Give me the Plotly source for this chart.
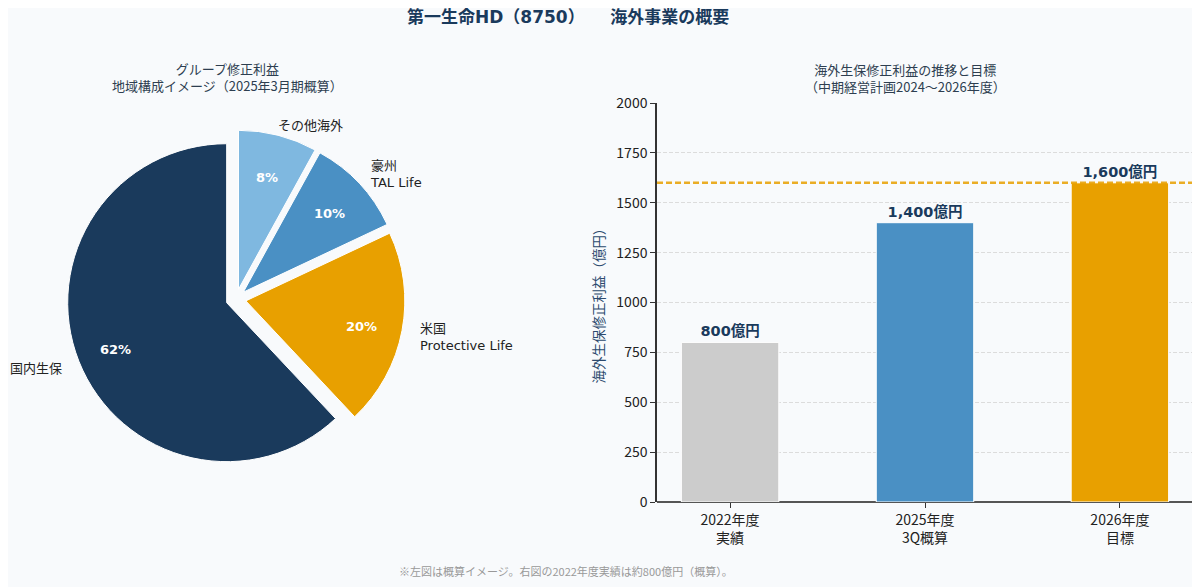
import math

import plotly.graph_objects as go

W, H = 1200, 587
PAGE_MARGIN = 8  # browser body margin

# Pie: regional composition (clockwise from 12 o'clock)
regions = ["その他海外", "豪州", "米国", "国内生保"]
region_labels = ["その他海外", "豪州<br>TAL Life", "米国<br>Protective Life", "国内生保"]
shares = [8, 10, 20, 62]
pie_colors = ["#7fb8e0", "#4a90c4", "#e8a000", "#1a3a5c"]

# Bars: overseas profit
years = ["2022年度<br>実績", "2025年度<br>3Q概算", "2026年度<br>目標"]
profits = [800, 1400, 1600]
bar_colors = ["#cccccc", "#4a90c4", "#e8a000"]
target = 1600

JP = "Noto Sans CJK JP"
DJ = "DejaVu Sans, Noto Sans CJK JP"


def px(x):
    return (x - PAGE_MARGIN) / W


def py(y):
    return 1 - (y - PAGE_MARGIN) / H


fig = go.Figure()

fig.add_trace(go.Pie(
    labels=regions, values=shares, sort=False, direction="clockwise",
    rotation=0, pull=[0.063] * 4,
    marker=dict(colors=pie_colors, line=dict(color="white", width=1)),
    textinfo="none",
    domain=dict(x=[px(67), px(405)], y=[py(468), py(130)]),
    showlegend=False, hoverinfo="label+percent",
))

# percentage labels placed along each wedge's middle angle
cx, cy, dist = 235, 302, 129
start = 0.0
total = sum(shares)
for s in shares:
    mid = math.radians(90 - (start + s / 2) / total * 360)
    start += s
    fig.add_annotation(x=px(cx + dist * math.cos(mid)), y=py(cy - dist * math.sin(mid)),
                       xref="paper", yref="paper", text=f"<b>{s}%</b>", showarrow=False,
                       xanchor="center", yanchor="middle",
                       font=dict(family=DJ, size=13, color="white"))

fig.add_trace(go.Bar(
    x=list(range(len(years))), y=profits, width=0.5,
    marker=dict(color=bar_colors, line=dict(color="white", width=1)),
    text=[f"{v:,}億円" for v in profits], textposition="outside", cliponaxis=False,
    textfont=dict(family=DJ, size=14.5, color="#1a3a5c", weight="bold"),
    showlegend=False, xaxis="x", yaxis="y",
))

fig.add_hline(y=target, line=dict(color="#e8a000", width=2.5, dash="6px,3px"), opacity=0.85)

# outside labels of the pie
label_pos = [
    (310, 126, "center"),
    (368, 174, "left"),
    (418, 337, "left"),
    (64, 368, "right"),
]
for text, (x, y, anchor) in zip(region_labels, label_pos):
    fig.add_annotation(x=px(x), y=py(y), xref="paper", yref="paper", text=text,
                       showarrow=False, xanchor=anchor, yanchor="middle", align="left",
                       font=dict(family=DJ, size=13, color="#222222"))

fig.add_annotation(x=px(568), y=py(17), xref="paper", yref="paper",
                   text="<b>第一生命HD（8750）　　海外事業の概要</b>",
                   showarrow=False, xanchor="center", yanchor="middle",
                   font=dict(family=DJ, size=17, color="#1a3a5c"))
fig.add_annotation(x=px(228), y=py(77), xref="paper", yref="paper",
                   text="グループ修正利益<br>地域構成イメージ（2025年3月期概算）",
                   showarrow=False, xanchor="center", yanchor="middle",
                   font=dict(family=JP, size=13, color="#2d3e50"))
fig.add_annotation(x=px(905), y=py(78), xref="paper", yref="paper",
                   text="海外生保修正利益の推移と目標<br>（中期経営計画2024～2026年度）",
                   showarrow=False, xanchor="center", yanchor="middle",
                   font=dict(family=JP, size=13, color="#2d3e50"))
fig.add_annotation(x=px(566), y=py(571), xref="paper", yref="paper",
                   text="※左図は概算イメージ。右図の2022年度実績は約800億円（概算）。",
                   showarrow=False, xanchor="center", yanchor="middle",
                   font=dict(family=JP, size=11, color="#999999"))

fig.update_layout(
    width=W, height=H,
    margin=dict(l=0, r=0, t=0, b=0, autoexpand=False),
    paper_bgcolor="#f8fafc", plot_bgcolor="#f8fafc",
    xaxis=dict(domain=[px(657), px(1193)], range=[-0.375, 2.375],
               tickvals=list(range(len(years))), ticktext=years,
               showgrid=False, zeroline=False, showline=False,
               ticks="outside", ticklen=5, tickcolor="#333333",
               tickfont=dict(family=JP, size=14, color="#222222")),
    yaxis=dict(domain=[py(502), py(103)], range=[0, 2000], dtick=250,
               showgrid=True, gridcolor="#dcdcdc", griddash="4px,2px", gridwidth=1,
               zeroline=True, zerolinecolor="#555555", zerolinewidth=2,
               showline=True, linecolor="#333333", linewidth=1.5,
               ticks="outside", ticklen=5, tickcolor="#333333",
               tickfont=dict(family=JP, size=14, color="#222222"),
               title=dict(text="海外生保修正利益（億円）", standoff=9,
                          font=dict(family=JP, size=13.5, color="#2c4a6e"))),
)

fig.write_html("out.html")
